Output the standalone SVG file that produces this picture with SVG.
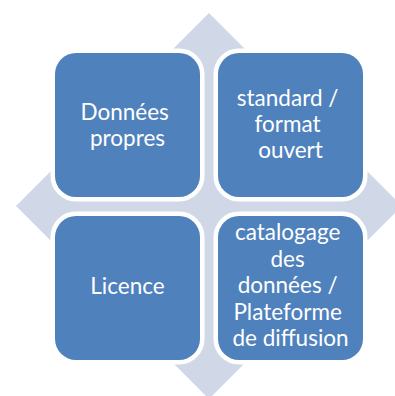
<svg xmlns="http://www.w3.org/2000/svg" width="395" height="396" viewBox="0 0 395 396">
  <style>
    .bg { fill: #D0D8E8; }
    .box { fill: #4F81BD; stroke: #FFFFFF; stroke-width: 9; paint-order: stroke; }
    .lbl { fill: #FFFFFF; font-family: Lato, "Open Sans", "Liberation Sans", sans-serif; font-size: 22.5px; text-anchor: middle; }
  </style>
  <rect width="395" height="396" fill="#FFFFFF"/>
  <!-- background diamond (four-way arrow) -->
  <g id="background">
    <polygon class="bg" points="209,13 402,206 209,399 16,206"/>
  </g>
  <g id="connectors"></g>
  <g id="node-donnees">
    <rect class="box" x="55" y="53" width="145" height="144" rx="21" ry="21"/>
    <text class="lbl" x="127.5" y="120">
      <tspan x="127.5" y="120">Données</tspan>
      <tspan x="127.5" y="146">propres</tspan>
    </text>
  </g>
  <g id="node-standard">
    <rect class="box" x="218" y="53" width="145" height="144" rx="21" ry="21"/>
    <text class="lbl" x="290.5" y="106">
      <tspan x="290.5" y="106">standard /</tspan>
      <tspan x="290.5" y="132">format</tspan>
      <tspan x="290.5" y="157.5">ouvert</tspan>
    </text>
  </g>
  <g id="node-licence">
    <rect class="box" x="55" y="216" width="145" height="144" rx="21" ry="21"/>
    <text class="lbl" x="127.5" y="294">Licence</text>
  </g>
  <g id="node-catalogage">
    <rect class="box" x="218" y="216" width="145" height="144" rx="21" ry="21"/>
    <text class="lbl" x="290.5" y="240">
      <tspan x="290.5" y="240">catalogage</tspan>
      <tspan x="290.5" y="266.5">des</tspan>
      <tspan x="290.5" y="293">données /</tspan>
      <tspan x="290.5" y="319.5">Plateforme</tspan>
      <tspan x="290.5" y="346">de diffusion</tspan>
    </text>
  </g>
</svg>
